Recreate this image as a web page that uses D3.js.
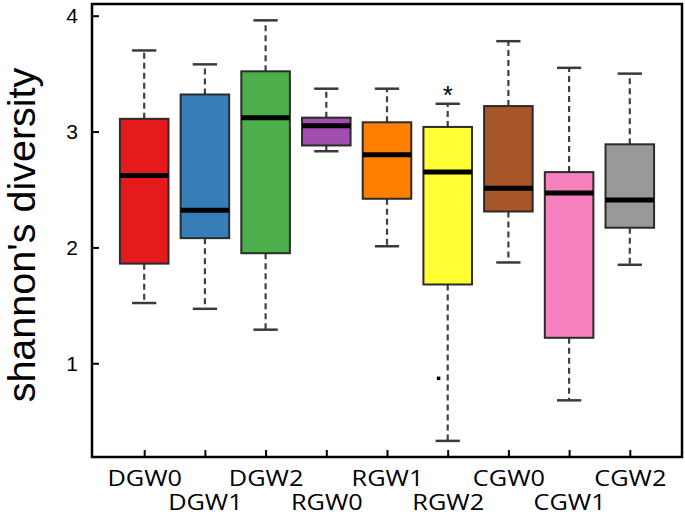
<!DOCTYPE html>
<html>
<head>
<meta charset="utf-8">
<script src="https://cdn.jsdelivr.net/npm/d3@7"></script>
<style>
  html, body { margin: 0; padding: 0; background: #fff; }
  svg { display: block; }
</style>
</head>
<body>
<svg id="chart" width="685" height="518"></svg>
<script>
// ---- data ----
const categories  = ["DGW0","DGW1","DGW2","RGW0","RGW1","RGW2","CGW0","CGW1","CGW2"];
const whiskerLow  = [1.52, 1.47, 1.29, 2.83, 2.01, 0.33, 1.87, 0.68, 1.85];
const q1          = [1.86, 2.08, 1.95, 2.88, 2.42, 1.68, 2.31, 1.22, 2.17];
const medians     = [2.62, 2.32, 3.12, 3.05, 2.80, 2.65, 2.51, 2.47, 2.41];
const q3          = [3.11, 3.32, 3.52, 3.12, 3.08, 3.04, 3.22, 2.65, 2.89];
const whiskerHigh = [3.70, 3.58, 3.96, 3.37, 3.37, 3.24, 3.78, 3.55, 3.50];
const boxColors   = ["#e41a1c","#377eb8","#4daf4a","#a24db0","#ff7f00","#ffff33","#a65628","#f781bf","#999999"];
const outliers    = [{ cat: "RGW2", value: 0.87, jitter: -0.15 }];
const marks       = [{ cat: "RGW2", value: 3.37, label: "*" }];
const yTicks      = [1, 2, 3, 4];
const yTitle      = "shannon's diversity";

// ---- layout ----
const svg = d3.select("#chart");
const plot = { left: 92, right: 682, top: 4, bottom: 457 };

const x = d3.scaleLinear().domain([0.14, categories.length + 0.86]).range([plot.left, plot.right]);
const y = d3.scaleLinear().domain([0.191, 4.101]).range([plot.bottom, plot.top]);
const pos = c => categories.indexOf(c) + 1;

const boxes = categories.map((c, i) => ({
  cat: c, i: i + 1, lo: whiskerLow[i], q1: q1[i], med: medians[i], q3: q3[i], hi: whiskerHigh[i], color: boxColors[i]
}));

const boxHalf = (x(1.4) - x(1));   // boxwex 0.8
const capHalf = (x(1.2) - x(1));   // staple 0.4

const g = svg.append("g");

// whiskers (dashed)
const wg = g.append("g").attr("stroke", "#404040").attr("stroke-width", 2.2).attr("stroke-dasharray", "6,4");
wg.selectAll("line.up").data(boxes).join("line")
  .attr("x1", d => x(d.i)).attr("x2", d => x(d.i))
  .attr("y1", d => y(d.q3)).attr("y2", d => y(d.hi));
wg.selectAll("line.dn").data(boxes).join("line")
  .attr("x1", d => x(d.i)).attr("x2", d => x(d.i))
  .attr("y1", d => y(d.q1)).attr("y2", d => y(d.lo));

// caps
const cg = g.append("g").attr("stroke", "#3a3a3a").attr("stroke-width", 2.5);
cg.selectAll("line.hi").data(boxes).join("line")
  .attr("x1", d => x(d.i) - capHalf).attr("x2", d => x(d.i) + capHalf)
  .attr("y1", d => y(d.hi)).attr("y2", d => y(d.hi));
cg.selectAll("line.lo").data(boxes).join("line")
  .attr("x1", d => x(d.i) - capHalf).attr("x2", d => x(d.i) + capHalf)
  .attr("y1", d => y(d.lo)).attr("y2", d => y(d.lo));

// boxes
g.append("g").selectAll("rect").data(boxes).join("rect")
  .attr("x", d => x(d.i) - boxHalf)
  .attr("width", 2 * boxHalf)
  .attr("y", d => y(d.q3))
  .attr("height", d => y(d.q1) - y(d.q3))
  .attr("fill", d => d.color)
  .attr("stroke", "#2b2b2b")
  .attr("stroke-width", 2);

// medians
g.append("g").selectAll("line").data(boxes).join("line")
  .attr("x1", d => x(d.i) - boxHalf).attr("x2", d => x(d.i) + boxHalf)
  .attr("y1", d => y(d.med)).attr("y2", d => y(d.med))
  .attr("stroke", "#000").attr("stroke-width", 5);

// outlier points
g.append("g").selectAll("rect").data(outliers).join("rect")
  .attr("x", d => x(pos(d.cat) + d.jitter) - 1.75)
  .attr("y", d => y(d.value) - 1.75)
  .attr("width", 3.5).attr("height", 3.5)
  .attr("fill", "#000");

// significance marks
g.append("g").selectAll("text").data(marks).join("text")
  .attr("x", d => x(pos(d.cat)))
  .attr("y", d => y(d.value) + 15)
  .attr("text-anchor", "middle")
  .attr("font-family", "Liberation Sans, Arial, sans-serif")
  .attr("font-size", 26)
  .attr("fill", "#000")
  .text(d => d.label);

// y axis
const yAxis = d3.axisLeft(y).tickValues(yTicks).tickFormat(d3.format("d")).tickSize(-7).tickPadding(14);
const ya = svg.append("g").attr("transform", `translate(${plot.left},0)`).call(yAxis);
ya.select(".domain").remove();
ya.selectAll(".tick line").attr("stroke", "#000").attr("stroke-width", 2);
ya.selectAll(".tick text")
  .attr("font-family", "Liberation Sans, Arial, sans-serif")
  .attr("font-size", 21)
  .attr("fill", "#000");

// x axis
const xAxis = d3.axisBottom(x).tickValues(categories.map((c, i) => i + 1)).tickFormat(i => categories[i - 1]).tickSize(-7);
const xa = svg.append("g").attr("transform", `translate(0,${plot.bottom})`).call(xAxis);
xa.select(".domain").remove();
xa.selectAll(".tick line").attr("stroke", "#000").attr("stroke-width", 2);
xa.selectAll(".tick text")
  .attr("font-family", "Open Sans, DejaVu Sans, sans-serif")
  .attr("font-size", 22)
  .attr("fill", "#000")
  .attr("dy", null)
  .attr("y", null)
  .attr("transform", (d, k) => `translate(0,${k % 2 === 0 ? 28.5 : 53}) scale(1.15,1)`);

// frame
svg.append("rect")
  .attr("x", plot.left).attr("y", plot.top)
  .attr("width", plot.right - plot.left).attr("height", plot.bottom - plot.top)
  .attr("fill", "none").attr("stroke", "#000").attr("stroke-width", 2.5);

// y title
svg.append("text")
  .attr("transform", `translate(35,${(y(0.624) + y(3.59)) / 2}) rotate(-90)`)
  .attr("text-anchor", "middle")
  .attr("font-family", "Liberation Sans, Arial, sans-serif")
  .attr("font-size", 39.5)
  .attr("fill", "#000")
  .text(yTitle);
</script>
</body>
</html>
